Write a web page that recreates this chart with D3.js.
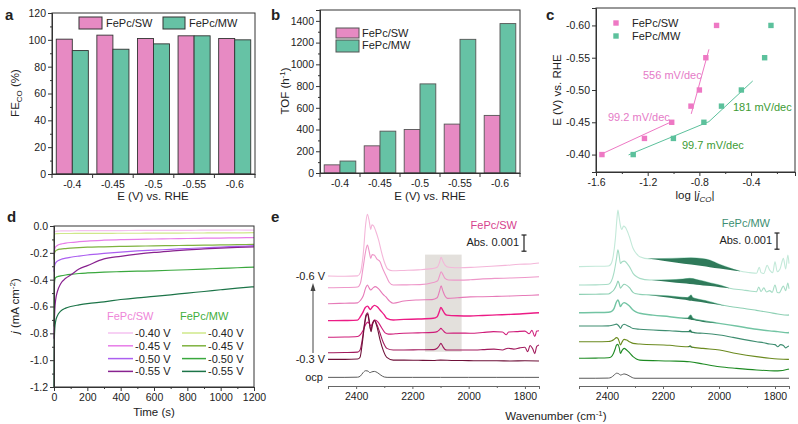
<!DOCTYPE html>
<html>
<head>
<meta charset="utf-8">
<script src="https://cdn.jsdelivr.net/npm/d3@7"></script>
<style>
  body { margin: 0; background: #fff; }
  svg text { font-family: "Liberation Sans", Arial, sans-serif; fill: #222; }
</style>
</head>
<body>
<svg id="chart" width="798" height="424"></svg>
<script>
// ---------- data ----------
// a, b : bar charts
var potentials = ["-0.4", "-0.45", "-0.5", "-0.55", "-0.6"];
var feSW = [100.5, 103.5, 101, 103, 101];
var feMW = [92, 93, 97, 103, 100];
var tofSW = [75, 250, 400, 450, 530];
var tofMW = [110, 385, 820, 1230, 1375];

// c : tafel (log j vs E)
var tafelE = [-0.40, -0.425, -0.45, -0.475, -0.50, -0.55, -0.60];
var tafelSW = [-1.554, -1.225, -1.014, -0.865, -0.80, -0.75, -0.667];
var tafelMW = [-1.312, -1.001, -0.765, -0.629, -0.475, -0.295, -0.246];
var fitSWlow = [[-1.561, -0.4005], [-1.014, -0.451]];
var fitSWhigh = [[-0.863, -0.463], [-0.726, -0.563]];
var fitMWlow = [[-1.348, -0.3995], [-0.726, -0.451]];
var fitMWhigh = [[-0.726, -0.451], [-0.387, -0.514]];
var slopeLabels = ["99.2 mV/dec", "556 mV/dec", "99.7 mV/dec", "181 mV/dec"];

// d : chronoamperometry
var caTime = [0, 2, 5, 10, 20, 40, 70, 100, 150, 200, 300, 400, 500, 600, 700, 800, 900, 1000, 1100, 1200];
var caSW040 = [-0.05, -0.045, -0.042, -0.04, -0.038, -0.037, -0.036, -0.036, -0.035, -0.035, -0.034, -0.034, -0.033, -0.033, -0.032, -0.032, -0.031, -0.031, -0.030, -0.030];
var caSW045 = [-0.22, -0.19, -0.17, -0.155, -0.145, -0.135, -0.128, -0.123, -0.117, -0.112, -0.106, -0.102, -0.099, -0.097, -0.095, -0.093, -0.091, -0.09, -0.088, -0.087];
var caSW050 = [-0.34, -0.31, -0.29, -0.275, -0.262, -0.25, -0.24, -0.233, -0.224, -0.216, -0.204, -0.194, -0.186, -0.18, -0.174, -0.168, -0.162, -0.157, -0.152, -0.147];
var caSW055 = [-0.84, -0.72, -0.62, -0.55, -0.49, -0.43, -0.39, -0.366, -0.32, -0.295, -0.245, -0.226, -0.21, -0.197, -0.187, -0.178, -0.171, -0.165, -0.16, -0.155];
var caMW040 = [-0.12, -0.07, -0.06, -0.058, -0.057, -0.056, -0.056, -0.056, -0.055, -0.055, -0.055, -0.054, -0.054, -0.053, -0.053, -0.052, -0.052, -0.051, -0.051, -0.05];
var caMW045 = [-0.25, -0.21, -0.195, -0.185, -0.178, -0.172, -0.168, -0.165, -0.161, -0.158, -0.155, -0.152, -0.15, -0.148, -0.146, -0.145, -0.143, -0.141, -0.139, -0.137];
var caMW050 = [-0.75, -0.45, -0.40, -0.385, -0.378, -0.372, -0.365, -0.36, -0.354, -0.35, -0.344, -0.34, -0.337, -0.334, -0.33, -0.326, -0.321, -0.316, -0.311, -0.306];
var caMW055 = [-1.2, -0.85, -0.76, -0.71, -0.67, -0.635, -0.612, -0.60, -0.588, -0.578, -0.565, -0.548, -0.535, -0.525, -0.513, -0.5, -0.488, -0.475, -0.463, -0.453];
var caLabels = ["-0.40 V", "-0.45 V", "-0.50 V", "-0.55 V"];

// e : IR spectra, [wavenumber, absorbance x1000 incl. stacking offset]
var irSW = [
  [[2500,6.11],[2440,6.1],[2395,6.12],[2385,6.3],[2375,7.3],[2366,9.0],[2360,9.54],[2354,9.2],[2348,8.7],[2344,8.95],[2338,8.9],[2330,8.6],[2320,8.1],[2310,7.45],[2300,6.9],[2288,6.5],[2270,6.4],[2230,6.42],[2180,6.45],[2130,6.52],[2112,6.6],[2104,6.85],[2098,7.15],[2092,6.95],[2084,6.72],[2070,6.6],[2030,6.57],[1980,6.6],[1920,6.65],[1870,6.7],[1820,6.76],[1780,6.78],[1750,6.83]],
  [[2500,5.46],[2440,5.47],[2395,5.5],[2385,5.7],[2375,6.6],[2366,7.5],[2360,7.83],[2354,7.5],[2348,7.09],[2343,7.3],[2336,7.28],[2326,7.05],[2315,6.9],[2305,6.5],[2295,6.17],[2282,5.75],[2268,5.61],[2220,5.62],[2173,5.63],[2126,5.75],[2110,5.85],[2104,6.1],[2098,6.35],[2092,6.2],[2084,5.98],[2072,5.89],[2030,5.88],[1995,5.9],[1950,5.95],[1900,5.98],[1850,6.0],[1800,6.03],[1750,6.07]],
  [[2500,4.57],[2440,4.6],[2395,4.62],[2385,4.75],[2375,5.0],[2366,5.45],[2360,5.61],[2354,5.45],[2348,5.33],[2340,5.45],[2332,5.52],[2320,5.4],[2305,5.1],[2295,4.96],[2280,4.7],[2268,4.6],[2230,4.72],[2180,4.78],[2130,4.8],[2112,4.9],[2104,5.25],[2098,5.56],[2092,5.3],[2084,5.0],[2075,4.87],[2040,4.9],[1995,4.95],[1950,4.96],[1900,4.98],[1850,5.0],[1800,5.03],[1750,5.06]],
  [[2500,3.63],[2440,3.64],[2395,3.66],[2385,3.85],[2377,4.06],[2368,4.35],[2359,4.44],[2353,4.3],[2349,4.25],[2342,4.4],[2335,4.48],[2325,4.4],[2315,4.22],[2300,3.95],[2291,3.76],[2268,3.67],[2230,3.7],[2180,3.72],[2126,3.76],[2112,3.85],[2104,4.15],[2099,4.37],[2092,4.2],[2084,4.0],[2078,3.94],[2040,3.9],[1995,3.89],[1950,3.92],[1900,3.95],[1850,3.98],[1818,4.0],[1780,4.04],[1750,4.07]],
  [[2500,2.71],[2440,2.72],[2395,2.75],[2385,2.85],[2375,3.1],[2365,3.45],[2358,3.55],[2351,3.4],[2347,3.35],[2340,3.55],[2333,3.67],[2322,3.55],[2310,3.25],[2297,2.95],[2285,2.88],[2260,2.9],[2232,2.93],[2180,2.95],[2126,2.98],[2112,3.02],[2104,3.12],[2099,3.2],[2092,3.1],[2084,2.97],[2078,2.93],[2030,2.94],[1995,2.93],[1950,2.97],[1912,3.02],[1880,3.0],[1866,2.85],[1858,3.0],[1830,3.02],[1800,3.05],[1785,2.9],[1775,3.1],[1765,2.75],[1758,3.05],[1750,3.07]],
  [[2500,1.85],[2440,1.86],[2395,1.88],[2386,2.0],[2378,2.6],[2370,3.5],[2365,3.95],[2359,4.07],[2354,3.7],[2348,3.11],[2343,3.4],[2335,3.67],[2326,3.4],[2315,2.93],[2303,2.4],[2291,2.09],[2268,2.0],[2230,2.0],[2180,2.01],[2126,2.02],[2112,2.1],[2104,2.25],[2099,2.37],[2092,2.2],[2084,2.03],[2078,2.0],[2030,2.0],[1995,2.0],[1950,2.02],[1910,2.05],[1880,2.0],[1860,2.1],[1840,2.05],[1818,2.12],[1800,2.15],[1790,1.9],[1782,2.25],[1772,2.05],[1765,1.8],[1758,2.2],[1750,2.28]],
  [[2500,1.48],[2440,1.48],[2395,1.5],[2386,1.6],[2378,2.4],[2370,3.4],[2364,3.9],[2359,4.0],[2354,3.6],[2347,3.02],[2342,3.4],[2335,3.63],[2326,3.3],[2315,2.56],[2303,1.95],[2291,1.59],[2268,1.44],[2230,1.44],[2180,1.43],[2126,1.42],[2100,1.44],[2060,1.42],[2000,1.41],[1950,1.4],[1900,1.4],[1850,1.39],[1800,1.4],[1750,1.39]]
];
var irSWocp = [[2500,0.48],[2440,0.48],[2395,0.49],[2385,0.55],[2375,0.75],[2366,0.85],[2358,0.83],[2351,0.74],[2345,0.78],[2335,0.81],[2325,0.75],[2312,0.6],[2300,0.5],[2290,0.48],[2200,0.48],[2100,0.48],[2000,0.48],[1900,0.48],[1800,0.48],[1750,0.48]];
var irCOwindow = [2155, 2025];
var irCOwindowAbs = [1.9, 7.3];

var irMW = [
  [[2500,6.63],[2440,6.65],[2395,6.67],[2385,6.8],[2378,7.2],[2370,8.2],[2365,9.2],[2361,9.78],[2357,9.4],[2352,8.9],[2347,8.7],[2341,8.88],[2335,8.82],[2320,8.29],[2307,7.65],[2295,7.35],[2283,7.18],[2248,7.06],[2176,7.09],[2105,7.13],[2060,7.08],[2033,7.0],[1998,6.76],[1960,6.55],[1938,6.44],[1914,6.35],[1890,6.3],[1866,6.26],[1856,6.6],[1850,6.3],[1840,6.25],[1828,6.7],[1819,6.44],[1808,6.3],[1800,6.9],[1792,6.35],[1782,6.5],[1770,7.09],[1762,6.5],[1754,7.28],[1750,6.8]],
  [[2500,5.61],[2440,5.62],[2395,5.65],[2385,5.8],[2375,6.3],[2366,7.09],[2361,7.56],[2357,7.3],[2352,6.81],[2346,6.9],[2339,6.94],[2320,6.63],[2307,6.26],[2295,6.08],[2283,5.98],[2248,5.89],[2176,5.9],[2130,5.94],[2105,5.98],[2080,5.92],[2057,5.83],[2030,5.72],[1998,5.61],[1962,5.43],[1914,5.33],[1890,5.28],[1866,5.24],[1858,5.5],[1850,5.25],[1840,5.45],[1830,5.22],[1819,5.3],[1810,5.2],[1800,5.61],[1792,5.2],[1785,5.18],[1770,5.55],[1762,5.3],[1754,5.72],[1750,5.4]],
  [[2500,5.09],[2440,5.1],[2395,5.11],[2385,5.2],[2375,5.35],[2366,5.61],[2361,5.83],[2357,5.7],[2352,5.43],[2346,5.55],[2339,5.65],[2320,5.46],[2307,5.2],[2295,5.12],[2283,5.09],[2250,5.06],[2176,5.0],[2130,4.93],[2112,4.92],[2104,5.0],[2100,5.05],[2094,4.92],[2080,4.85],[2050,4.75],[2020,4.62],[1990,4.5],[1960,4.42],[1914,4.32],[1866,4.2],[1819,4.08],[1790,4.0],[1754,3.94],[1750,3.95]],
  [[2500,4.07],[2440,4.08],[2395,4.1],[2385,4.13],[2375,4.3],[2366,4.68],[2361,4.78],[2357,4.65],[2352,4.41],[2346,4.55],[2339,4.63],[2320,4.44],[2307,4.22],[2295,4.1],[2283,4.04],[2236,3.94],[2176,3.85],[2135,3.78],[2112,3.77],[2104,3.9],[2101,3.94],[2094,3.76],[2080,3.68],[2057,3.63],[2000,3.48],[1938,3.33],[1866,3.15],[1819,3.06],[1790,3.02],[1754,2.96],[1750,2.97]],
  [[2500,3.33],[2440,3.33],[2395,3.34],[2385,3.36],[2375,3.4],[2366,3.44],[2361,3.39],[2356,3.3],[2352,3.2],[2346,3.35],[2339,3.43],[2330,3.38],[2320,3.3],[2307,3.19],[2283,3.15],[2176,3.07],[2115,3.02],[2108,3.03],[2103,3.11],[2097,3.0],[2085,2.96],[2057,2.93],[1998,2.83],[1950,2.7],[1914,2.59],[1866,2.46],[1840,2.4],[1819,2.33],[1800,2.3],[1790,2.18],[1780,2.3],[1770,2.25],[1762,2.12],[1754,2.2],[1750,2.22]],
  [[2500,2.46],[2440,2.46],[2395,2.47],[2385,2.5],[2375,2.58],[2366,2.69],[2361,2.65],[2356,2.45],[2352,2.28],[2346,2.45],[2339,2.59],[2330,2.55],[2320,2.46],[2307,2.37],[2283,2.33],[2176,2.26],[2120,2.18],[2108,2.19],[2103,2.24],[2097,2.16],[2057,2.09],[1998,2.0],[1938,1.81],[1866,1.63],[1819,1.54],[1790,1.5],[1754,1.48],[1750,1.49]],
  [[2500,1.54],[2440,1.55],[2395,1.57],[2385,1.62],[2377,1.8],[2370,2.1],[2366,2.28],[2361,2.31],[2356,2.1],[2352,1.81],[2346,1.98],[2339,2.09],[2330,2.0],[2320,1.85],[2307,1.63],[2295,1.5],[2283,1.44],[2176,1.39],[2105,1.35],[2057,1.22],[1998,1.07],[1938,0.98],[1866,0.89],[1819,0.85],[1790,0.84],[1754,0.93],[1750,0.95]]
];
var irMWocp = [[2500,0.43],[2440,0.43],[2395,0.44],[2385,0.48],[2375,0.6],[2366,0.71],[2358,0.68],[2352,0.61],[2345,0.64],[2339,0.67],[2325,0.6],[2310,0.47],[2300,0.43],[2200,0.43],[2100,0.43],[2000,0.43],[1900,0.43],[1800,0.43],[1750,0.43]];
// dark bands under the MW traces: [wavenumber, upper, lower]
var irMWbands = [
  [[2255,7.08,7.08],[2200,7.08,6.96],[2150,7.1,6.85],[2100,7.13,6.75],[2060,7.08,6.66],[2033,7.0,6.6],[1998,6.76,6.53],[1960,6.55,6.45],[1925,6.39,6.37]],
  [[2240,5.89,5.89],[2176,5.9,5.78],[2130,5.94,5.71],[2105,5.98,5.67],[2080,5.92,5.63],[2057,5.83,5.59],[2030,5.72,5.55],[1998,5.61,5.49],[1962,5.43,5.43]],
  [[2250,5.06,5.06],[2176,5.0,4.9],[2130,4.93,4.8],[2112,4.92,4.76],[2104,5.0,4.74],[2100,5.05,4.73],[2094,4.92,4.72],[2080,4.85,4.69],[2050,4.75,4.62],[2020,4.62,4.55],[1990,4.5,4.49],[1980,4.47,4.47]],
  [[2135,3.78,3.78],[2112,3.77,3.72],[2104,3.9,3.69],[2101,3.94,3.68],[2094,3.76,3.66],[2080,3.68,3.62],[2057,3.63,3.56],[2030,3.55,3.52],[2010,3.5,3.5]],
  [[2115,3.02,3.02],[2108,3.03,2.99],[2103,3.11,2.98],[2097,3.0,2.96],[2085,2.96,2.93],[2065,2.93,2.92]],
  [[2110,2.18,2.18],[2103,2.24,2.15],[2097,2.16,2.14],[2088,2.13,2.13]]
];
var wnTicks = [2400, 2200, 2000, 1800];

// ---------- drawing ----------
var svg = d3.select("#chart");
var pink = "#e78ac3", teal = "#66c2a5";
var intFmt = d3.format("d");

function styleAxis(g) {
  g.attr("font-size", null).attr("font-family", null);
  g.selectAll("path.domain").attr("stroke", "#333");
  g.selectAll(".tick line").attr("stroke", "#333");
  g.selectAll(".tick text").style("font-size", "10.5px");
  return g;
}

function frame(x0, y0, x1, y1) {
  svg.append("rect").attr("x", x0).attr("y", y0).attr("width", x1 - x0).attr("height", y1 - y0)
    .attr("fill", "none").attr("stroke", "#333").attr("stroke-width", 1);
}

function letter(t, x, y) {
  svg.append("text").attr("x", x).attr("y", y).text(t)
    .style("font-size", "15px").style("font-weight", "bold");
}

function fmt(n) { return function(d) { return d.toFixed(n); }; }

// bar panel, used for a and b
function barPanel(L, R, T, B, yMax, majors, minors, sw, mw, stroke) {
  var x = d3.scaleBand().domain(potentials).range([L, R]).paddingInner(0.21).paddingOuter(0.105);
  var sub = d3.scaleBand().domain([0, 1]).range([0, x.bandwidth()]);
  var y = d3.scaleLinear().domain([0, yMax]).range([B, T]);
  var g = svg.append("g");
  [sw, mw].forEach(function(vals, k) {
    g.selectAll(null).data(vals).enter().append("rect")
      .attr("x", function(d, i) { return x(potentials[i]) + sub(k); })
      .attr("y", function(d) { return y(d); })
      .attr("width", sub.bandwidth())
      .attr("height", function(d) { return B - y(d); })
      .attr("fill", k == 0 ? pink : teal)
      .attr("stroke", stroke).attr("stroke-width", 0.9);
  });
  frame(L, T, R, B);
  styleAxis(svg.append("g").attr("transform", "translate(" + L + ",0)")
    .call(d3.axisLeft(y).tickValues(majors).tickFormat(intFmt).tickSize(4).tickPadding(2)));
  styleAxis(svg.append("g").attr("transform", "translate(" + L + ",0)")
    .call(d3.axisLeft(y).tickValues(minors).tickSize(2).tickFormat("")));
  styleAxis(svg.append("g").attr("transform", "translate(0," + B + ")")
    .call(d3.axisBottom(x).tickSize(0).tickPadding(7)));
  // ticks between the groups
  for (var i = 0; i <= potentials.length; i++) {
    var xx = L + i * (R - L) / potentials.length;
    svg.append("line").attr("x1", xx).attr("x2", xx)
      .attr("y1", B).attr("y2", B + 4).attr("stroke", "#333");
  }
  return x;
}

// a
barPanel(52, 255, 13, 174, 120, d3.range(0, 121, 20), d3.range(10, 120, 20), feSW, feMW, "#333");
letter("a", 5, 20);
svg.append("rect").attr("x", 79).attr("y", 17).attr("width", 23).attr("height", 12).attr("fill", pink).attr("stroke", "#333");
svg.append("text").attr("x", 106).attr("y", 27).text("FePc/SW").style("font-size", "11px");
svg.append("rect").attr("x", 163).attr("y", 17).attr("width", 22).attr("height", 12).attr("fill", teal).attr("stroke", "#333");
svg.append("text").attr("x", 189).attr("y", 27).text("FePc/MW").style("font-size", "11px");
var fe = svg.append("text").attr("transform", "translate(19,93) rotate(-90)").attr("text-anchor", "middle").style("font-size", "11.5px");
fe.append("tspan").text("FE");
fe.append("tspan").text("CO").style("font-size", "8px").attr("dy", 3);
fe.append("tspan").text(" (%)").attr("dy", -3);
svg.append("text").attr("x", 153).attr("y", 200).attr("text-anchor", "middle").text("E (V) vs. RHE").style("font-size", "11.5px");

// b
barPanel(320, 520, 10, 173, 1500, d3.range(0, 1401, 200), d3.range(100, 1500, 200), tofSW, tofMW, "#555");
letter("b", 271, 20);
svg.append("rect").attr("x", 336).attr("y", 28).attr("width", 23).attr("height", 10).attr("fill", pink).attr("stroke", "#555");
svg.append("text").attr("x", 362).attr("y", 37).text("FePc/SW").style("font-size", "11px");
svg.append("rect").attr("x", 336).attr("y", 40).attr("width", 23).attr("height", 12).attr("fill", teal).attr("stroke", "#555");
svg.append("text").attr("x", 362).attr("y", 49).text("FePc/MW").style("font-size", "11px");
var tof = svg.append("text").attr("transform", "translate(289,91) rotate(-90)").attr("text-anchor", "middle").style("font-size", "11.5px");
tof.append("tspan").text("TOF (h");
tof.append("tspan").text("-1").style("font-size", "8px").attr("dy", -4);
tof.append("tspan").text(")").attr("dy", 4);
svg.append("text").attr("x", 430).attr("y", 200).attr("text-anchor", "middle").text("E (V) vs. RHE").style("font-size", "11.5px");

// c
var xC = d3.scaleLinear().domain([-1.6, -0.06]).range([596, 795]);
var yC = d3.scaleLinear().domain([-0.373, -0.627]).range([172, 8]);
var cPink = "#ee78c4", cTeal = "#5cc19c";
var fitLine = d3.line().x(function(d) { return xC(d[0]); }).y(function(d) { return yC(d[1]); });
[[fitSWlow, cPink], [fitSWhigh, cPink], [fitMWlow, cTeal], [fitMWhigh, cTeal]].forEach(function(f) {
  svg.append("path").attr("d", fitLine(f[0])).attr("fill", "none").attr("stroke", f[1]).attr("stroke-width", 1);
});
[[tafelSW, cPink], [tafelMW, cTeal]].forEach(function(s) {
  svg.selectAll(null).data(s[0]).enter().append("rect")
    .attr("x", function(d) { return xC(d) - 2.7; })
    .attr("y", function(d, i) { return yC(tafelE[i]) - 2.7; })
    .attr("width", 5.4).attr("height", 5.4).attr("fill", s[1]);
});
frame(596, 8, 795, 172);
styleAxis(svg.append("g").attr("transform", "translate(596,0)")
  .call(d3.axisLeft(yC).tickValues([-0.40, -0.45, -0.50, -0.55, -0.60]).tickFormat(fmt(2)).tickSize(4).tickPadding(2)));
styleAxis(svg.append("g").attr("transform", "translate(0,172)")
  .call(d3.axisBottom(xC).tickValues([-1.6, -1.2, -0.8, -0.4]).tickFormat(fmt(1)).tickSize(4).tickPadding(3)));
styleAxis(svg.append("g").attr("transform", "translate(0,172)")
  .call(d3.axisBottom(xC).tickValues([-1.4, -1.0, -0.6, -0.2]).tickFormat("").tickSize(2)));
letter("c", 546, 20);
svg.append("rect").attr("x", 613.3).attr("y", 20.3).attr("width", 5.4).attr("height", 5.4).attr("fill", cPink);
svg.append("rect").attr("x", 613.3).attr("y", 33.3).attr("width", 5.4).attr("height", 5.4).attr("fill", cTeal);
svg.append("text").attr("x", 632).attr("y", 27).text("FePc/SW").style("font-size", "11px");
svg.append("text").attr("x", 632).attr("y", 40).text("FePc/MW").style("font-size", "11px");
var slopePos = [[608, 121], [643, 79], [682, 149], [733, 111]];
slopeLabels.forEach(function(t, i) {
  svg.append("text").attr("x", slopePos[i][0]).attr("y", slopePos[i][1]).text(t)
    .style("font-size", "11px").style("fill", i < 2 ? "#e57bc7" : "#3c9b34");
});
svg.append("text").attr("transform", "translate(561,90) rotate(-90)").attr("text-anchor", "middle")
  .text("E (V) vs. RHE").style("font-size", "11.5px");
var lj = svg.append("text").attr("x", 695).attr("y", 199).attr("text-anchor", "middle").style("font-size", "11.5px");
lj.append("tspan").text("log |");
lj.append("tspan").text("j").style("font-style", "italic");
lj.append("tspan").text("CO").style("font-style", "italic").style("font-size", "8px").attr("dy", 3);
lj.append("tspan").text("|").attr("dy", -3);

// d
var xD = d3.scaleLinear().domain([0, 1200]).range([54, 254]);
var yD = d3.scaleLinear().domain([-1.2, 0]).range([387, 226]);
var caSets = [caSW040, caMW040, caSW045, caMW045, caSW050, caMW050, caSW055, caMW055];
var caColors = ["#f4c2f0", "#cfe88a", "#e77ce8", "#7fb23f", "#ab5ff0", "#3aa83e", "#88228f", "#1c7448"];
var caLine = d3.line().x(function(d, i) { return xD(caTime[i]); }).y(function(d) { return yD(d); }).curve(d3.curveMonotoneX);
caSets.forEach(function(s, k) {
  svg.append("path").attr("d", caLine(s)).attr("fill", "none").attr("stroke", caColors[k]).attr("stroke-width", 1.2);
});
frame(54, 226, 254, 387);
styleAxis(svg.append("g").attr("transform", "translate(54,0)")
  .call(d3.axisLeft(yD).tickValues(d3.range(-1.2, 0.01, 0.2)).tickFormat(fmt(1)).tickSize(4).tickPadding(2)));
styleAxis(svg.append("g").attr("transform", "translate(54,0)")
  .call(d3.axisLeft(yD).tickValues(d3.range(-1.1, 0, 0.2)).tickFormat("").tickSize(2)));
styleAxis(svg.append("g").attr("transform", "translate(0,387)")
  .call(d3.axisBottom(xD).tickValues(d3.range(0, 1201, 200)).tickFormat(intFmt).tickSize(4).tickPadding(3)));
styleAxis(svg.append("g").attr("transform", "translate(0,387)")
  .call(d3.axisBottom(xD).tickValues(d3.range(100, 1200, 200)).tickFormat("").tickSize(2)));
letter("d", 7, 222);
svg.append("text").attr("x", 107).attr("y", 320).text("FePc/SW").style("font-size", "11px").style("fill", "#ee85d8");
svg.append("text").attr("x", 180).attr("y", 320).text("FePc/MW").style("font-size", "11px").style("fill", "#3fae3c");
caLabels.forEach(function(t, i) {
  var yy = 333 + i * 12.8;
  svg.append("line").attr("x1", 108).attr("x2", 133).attr("y1", yy).attr("y2", yy).attr("stroke", caColors[i * 2]).attr("stroke-width", 1.5);
  svg.append("text").attr("x", 135).attr("y", yy + 4).text(t).style("font-size", "11px");
  svg.append("line").attr("x1", 182).attr("x2", 206).attr("y1", yy).attr("y2", yy).attr("stroke", caColors[i * 2 + 1]).attr("stroke-width", 1.5);
  svg.append("text").attr("x", 208).attr("y", yy + 4).text(t).style("font-size", "11px");
});
var jl = svg.append("text").attr("transform", "translate(19,306) rotate(-90)").attr("text-anchor", "middle").style("font-size", "11.5px");
jl.append("tspan").text("j").style("font-style", "italic");
jl.append("tspan").text(" (mA cm");
jl.append("tspan").text("-2").style("font-size", "8px").attr("dy", -4);
jl.append("tspan").text(")").attr("dy", 4);
svg.append("text").attr("x", 154).attr("y", 416).attr("text-anchor", "middle").text("Time (s)").style("font-size", "11.5px");

// e
var xE1 = d3.scaleLinear().domain([2500, 1750]).range([328, 539]);
var xE2 = d3.scaleLinear().domain([2500, 1750]).range([579, 789]);
var yE = d3.scaleLinear().domain([0, 10]).range([386, 206]);
var swColors = ["#f4b6d9", "#ee97c9", "#e67ab8", "#ec1b85", "#cf1c79", "#a11a5c", "#6e1038"];
var mwColors = ["#c3e9d9", "#a6dcc5", "#8ed0b4", "#72c4a3", "#3e8d70", "#6b8a1f", "#1d8a22"];

// CO window
svg.append("rect").attr("x", xE1(irCOwindow[0])).attr("width", xE1(irCOwindow[1]) - xE1(irCOwindow[0]))
  .attr("y", yE(irCOwindowAbs[1])).attr("height", yE(irCOwindowAbs[0]) - yE(irCOwindowAbs[1]))
  .attr("fill", "#e3e0dc");

function spectra(xS, sets, colors, ocp) {
  var ln = d3.line().x(function(d) { return xS(d[0]); }).y(function(d) { return yE(d[1]); }).curve(d3.curveMonotoneX);
  svg.append("path").attr("d", ln(ocp)).attr("fill", "none").attr("stroke", "#5a5a5a").attr("stroke-width", 1);
  sets.forEach(function(s, k) {
    svg.append("path").attr("d", ln(s)).attr("fill", "none").attr("stroke", colors[k])
      .attr("stroke-width", k == 3 ? 1.4 : 1.1);
  });
  var ax = styleAxis(svg.append("g").attr("transform", "translate(0,386)")
    .call(d3.axisBottom(xS).tickValues(wnTicks).tickSize(3).tickPadding(4).tickFormat(intFmt)));
  ax.selectAll("path.domain, .tick line").attr("stroke", "#666");
  var mx = styleAxis(svg.append("g").attr("transform", "translate(0,386)")
    .call(d3.axisBottom(xS).tickValues([2500, 2300, 2100, 1900]).tickFormat("").tickSize(2)));
  mx.selectAll("path.domain, .tick line").attr("stroke", "#666");
}
spectra(xE1, irSW, swColors, irSWocp);
spectra(xE2, irMW, mwColors, irMWocp);

var band = d3.area().x(function(d) { return xE2(d[0]); })
  .y0(function(d) { return yE(d[2]); }).y1(function(d) { return yE(d[1]); }).curve(d3.curveMonotoneX);
irMWbands.forEach(function(b) {
  svg.append("path").attr("d", band(b)).attr("fill", "#2f7a5a");
});

letter("e", 271, 222);
svg.append("text").attr("x", 325).attr("y", 280).attr("text-anchor", "end").text("-0.6 V").style("font-size", "11px");
svg.append("text").attr("x", 325).attr("y", 363).attr("text-anchor", "end").text("-0.3 V").style("font-size", "11px");
svg.append("text").attr("x", 323).attr("y", 381).attr("text-anchor", "end").text("ocp").style("font-size", "11px");
svg.append("line").attr("x1", 313).attr("x2", 313).attr("y1", 353).attr("y2", 289).attr("stroke", "#444");
svg.append("path").attr("d", "M313,283 L310.5,291 L315.5,291 Z").attr("fill", "#444");

// scale bars
function absBar(x, yTop, title, color, tx) {
  svg.append("text").attr("x", tx).attr("y", yTop - 6).attr("text-anchor", "end").text(title)
    .style("font-size", "11px").style("fill", color);
  svg.append("text").attr("x", tx + 2).attr("y", yTop + 11).attr("text-anchor", "end").text("Abs. 0.001").style("font-size", "11px");
  var h = yE(0) - yE(0.9);
  svg.append("line").attr("x1", x).attr("x2", x).attr("y1", yTop).attr("y2", yTop + h).attr("stroke", "#222").attr("stroke-width", 1.2);
  svg.append("line").attr("x1", x - 2.5).attr("x2", x + 2.5).attr("y1", yTop).attr("y2", yTop).attr("stroke", "#222").attr("stroke-width", 1.2);
  svg.append("line").attr("x1", x - 2.5).attr("x2", x + 2.5).attr("y1", yTop + h).attr("y2", yTop + h).attr("stroke", "#222").attr("stroke-width", 1.2);
}
absBar(524, 235, "FePc/SW", "#d63f8e", 517);
absBar(777, 233, "FePc/MW", "#3d8f72", 770);

svg.append("text").attr("x", 556).attr("y", 420).attr("text-anchor", "middle").style("font-size", "11.5px")
  .call(function(t) {
    t.append("tspan").text("Wavenumber (cm");
    t.append("tspan").text("-1").style("font-size", "8px").attr("dy", -4);
    t.append("tspan").text(")").attr("dy", 4);
  });
</script>
</body>
</html>
